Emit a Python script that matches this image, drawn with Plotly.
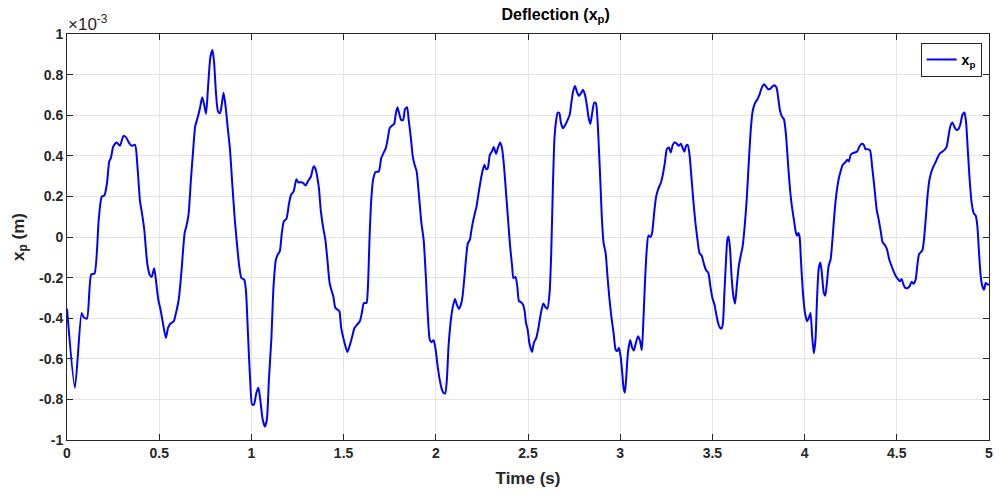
import plotly.graph_objects as go

# time (s)
t = [0.000, 0.043, 0.079, 0.090, 0.108, 0.131, 0.149, 0.172, 0.188, 0.203, 0.217, 0.229, 0.238, 0.251, 0.269,
     0.287, 0.306, 0.319, 0.341, 0.351, 0.369, 0.382, 0.396, 0.405, 0.419, 0.435, 0.448, 0.459, 0.473, 0.484,
     0.495, 0.507, 0.520, 0.536, 0.548, 0.561, 0.579, 0.591, 0.606, 0.620, 0.638, 0.647, 0.659, 0.672, 0.685,
     0.695, 0.710, 0.722, 0.733, 0.744, 0.754, 0.765, 0.778, 0.789, 0.798, 0.808, 0.819, 0.830, 0.839, 0.849,
     0.860, 0.871, 0.884, 0.896, 0.910, 0.923, 0.934, 0.946, 0.961, 0.970, 0.982, 0.993, 1.004, 1.014, 1.027,
     1.038, 1.048, 1.061, 1.073, 1.084, 1.095, 1.108, 1.120, 1.133, 1.143, 1.154, 1.165, 1.176, 1.190, 1.203,
     1.215, 1.229, 1.244, 1.254, 1.269, 1.281, 1.294, 1.308, 1.323, 1.337, 1.346,
     1.365, 1.376, 1.388, 1.401, 1.412, 1.424, 1.433, 1.444, 1.455, 1.466, 1.477, 1.487, 1.505, 1.520, 1.532,
     1.547, 1.559, 1.574, 1.588, 1.599, 1.610, 1.624, 1.632, 1.641, 1.650, 1.660, 1.673, 1.691, 1.704, 1.716,
     1.729, 1.740, 1.750, 1.761, 1.774, 1.783, 1.792, 1.801, 1.812, 1.823, 1.833, 1.844, 1.853, 1.864, 1.875,
     1.884, 1.896, 1.909, 1.922, 1.934, 1.945, 1.956, 1.967, 1.976, 1.988, 1.999, 2.010, 2.021, 2.032, 2.041,
     2.051, 2.060, 2.069, 2.080, 2.091, 2.104, 2.114, 2.125, 2.136, 2.145, 2.154, 2.165, 2.174, 2.185, 2.195,
     2.208, 2.221, 2.232, 2.244, 2.255, 2.264, 2.273, 2.282, 2.293, 2.304, 2.314, 2.327, 2.338, 2.349, 2.359,
     2.370, 2.381, 2.392, 2.403, 2.414, 2.421, 2.432, 2.442, 2.451, 2.462, 2.473, 2.482, 2.489, 2.498, 2.509,
     2.522, 2.532, 2.545, 2.558, 2.570, 2.583, 2.594, 2.605,
     2.617, 2.626, 2.635, 2.644, 2.653, 2.661, 2.670, 2.679, 2.690, 2.702, 2.715, 2.726, 2.735, 2.744, 2.755,
     2.765, 2.776, 2.787, 2.798, 2.809, 2.819, 2.829, 2.838, 2.848, 2.859, 2.868, 2.877, 2.884, 2.892, 2.901,
     2.910, 2.921, 2.931, 2.942, 2.953, 2.964, 2.975, 2.984, 2.993, 3.002, 3.011, 3.018, 3.025, 3.032, 3.042,
     3.054, 3.065, 3.074, 3.085, 3.097, 3.108, 3.117, 3.126, 3.135, 3.144, 3.153, 3.164, 3.173, 3.184, 3.195,
     3.208, 3.220, 3.231, 3.242, 3.253, 3.264, 3.274, 3.285, 3.296, 3.307, 3.318, 3.329, 3.339, 3.348, 3.357,
     3.366, 3.375, 3.386, 3.397, 3.408, 3.419, 3.430, 3.442, 3.455, 3.466, 3.478, 3.489, 3.500, 3.511, 3.523,
     3.536, 3.547, 3.556, 3.565, 3.574, 3.581, 3.588, 3.596, 3.605, 3.614, 3.623, 3.632, 3.643, 3.653, 3.664,
     3.675, 3.686, 3.697, 3.708, 3.718, 3.731, 3.744, 3.755, 3.767, 3.780, 3.791, 3.801, 3.812, 3.825, 3.836,
     3.847, 3.856, 3.866, 3.877, 3.888, 3.899, 3.910, 3.921, 3.931, 3.942, 3.953,
     3.959, 3.966, 3.973, 3.980, 3.991, 4.002, 4.013, 4.023, 4.032, 4.041, 4.050, 4.059, 4.068, 4.077, 4.086,
     4.095, 4.104, 4.112, 4.121, 4.130, 4.141, 4.151, 4.162, 4.173, 4.184, 4.195, 4.207, 4.220, 4.231, 4.240,
     4.250, 4.261, 4.274, 4.285, 4.297, 4.310, 4.321, 4.330, 4.342, 4.355, 4.366, 4.378, 4.391, 4.402, 4.413,
     4.423, 4.436, 4.447, 4.459, 4.472, 4.485, 4.495, 4.506, 4.517, 4.526, 4.535, 4.546, 4.559, 4.569, 4.580,
     4.591, 4.602, 4.611, 4.620, 4.631, 4.640, 4.649, 4.658, 4.668, 4.677, 4.688, 4.699, 4.712, 4.724, 4.735,
     4.748, 4.760, 4.771, 4.780, 4.791, 4.802, 4.813, 4.823, 4.834, 4.845, 4.856, 4.867, 4.876, 4.885, 4.895,
     4.906, 4.917, 4.928, 4.937, 4.946, 4.955, 4.964, 4.973, 4.982, 4.991, 5.000]

# deflection x_p, in units of 1e-3 m
xp = [-0.354, -0.743, -0.374, -0.395, -0.402, -0.185, -0.180, 0.085, 0.198, 0.205, 0.266, 0.372, 0.389, 0.446, 0.466,
      0.449, 0.498, 0.492, 0.457, 0.449, 0.454, 0.348, 0.175, 0.126, 0.036, -0.128, -0.185, -0.197, -0.154, -0.226,
      -0.308, -0.357, -0.423, -0.497, -0.448, -0.426, -0.415, -0.374, -0.308, -0.177, 0.020, 0.052, 0.110, 0.282, 0.438,
      0.544, 0.593, 0.639, 0.689, 0.651, 0.607, 0.741, 0.889, 0.921, 0.856, 0.708, 0.618, 0.610, 0.651, 0.711,
      0.643, 0.544, 0.430, 0.266, 0.085, -0.046, -0.144, -0.202, -0.210, -0.259, -0.489, -0.702, -0.825, -0.825, -0.767,
      -0.743, -0.800, -0.898, -0.934, -0.898, -0.702, -0.505, -0.243, -0.111, -0.087, -0.070, 0.020, 0.077, 0.090, 0.159,
      0.208, 0.225, 0.285, 0.269, 0.270, 0.266, 0.254, 0.277, 0.298, 0.348, 0.339,
      0.249, 0.134, 0.052, -0.013, -0.111, -0.226, -0.259, -0.292, -0.349, -0.357, -0.366, -0.448, -0.521, -0.566, -0.538,
      -0.489, -0.448, -0.431, -0.415, -0.374, -0.325, -0.325, -0.243, 0.003, 0.184, 0.282, 0.320, 0.323, 0.389, 0.413,
      0.438, 0.487, 0.536, 0.548, 0.557, 0.607, 0.639, 0.610, 0.577, 0.577, 0.630, 0.639, 0.577, 0.495, 0.397,
      0.359, 0.323, 0.200, 0.069, -0.013, -0.177, -0.374, -0.505, -0.518, -0.508, -0.554, -0.636, -0.702, -0.748, -0.767,
      -0.770, -0.702, -0.538, -0.423, -0.349, -0.305, -0.333, -0.354, -0.333, -0.292, -0.210, -0.095, -0.030, -0.013, 0.044,
      0.102, 0.151, 0.216, 0.282, 0.331, 0.356, 0.334, 0.339, 0.405, 0.421, 0.443, 0.410, 0.443, 0.466, 0.438,
      0.348, 0.216, 0.085, -0.046, -0.144, -0.202, -0.197, -0.243, -0.316, -0.321, -0.333, -0.366, -0.423, -0.456, -0.530,
      -0.566, -0.521, -0.497, -0.439, -0.374, -0.328, -0.344, -0.354,
      -0.275, -0.079, 0.249, 0.495, 0.577, 0.613, 0.610, 0.561, 0.536, 0.552, 0.577, 0.602, 0.659, 0.716, 0.744,
      0.716, 0.695, 0.708, 0.725, 0.700, 0.651, 0.585, 0.557, 0.610, 0.662, 0.659, 0.577, 0.446, 0.282, 0.085,
      -0.030, -0.079, -0.193, -0.308, -0.398, -0.472, -0.554, -0.562, -0.546, -0.587, -0.669, -0.743, -0.767, -0.702, -0.570,
      -0.508, -0.546, -0.559, -0.521, -0.489, -0.513, -0.557, -0.407, -0.210, -0.062, 0.007, 0.000, 0.020, 0.118, 0.200,
      0.241, 0.266, 0.307, 0.364, 0.433, 0.441, 0.416, 0.454, 0.467, 0.459, 0.449, 0.459, 0.438, 0.420, 0.449,
      0.454, 0.413, 0.298, 0.175, 0.069, -0.013, -0.079, -0.092, -0.136, -0.164, -0.177, -0.243, -0.300, -0.333, -0.390,
      -0.439, -0.452, -0.431, -0.275, -0.111, -0.013, 0.003, -0.062, -0.210, -0.292, -0.328, -0.243, -0.144, -0.095, -0.046,
      0.052, 0.184, 0.364, 0.528, 0.618, 0.659, 0.679, 0.700, 0.733, 0.752, 0.741, 0.729, 0.729, 0.741, 0.748,
      0.738, 0.692, 0.626, 0.593, 0.580, 0.503, 0.364, 0.233, 0.151, 0.085, 0.020,
      0.007, 0.020, 0.000, -0.111, -0.275, -0.374, -0.415, -0.398, -0.374, -0.489, -0.574, -0.505, -0.292, -0.152, -0.125,
      -0.193, -0.275, -0.289, -0.226, -0.144, -0.111, -0.013, 0.118, 0.216, 0.282, 0.323, 0.356, 0.367, 0.380, 0.372,
      0.405, 0.413, 0.416, 0.421, 0.446, 0.459, 0.454, 0.433, 0.433, 0.426, 0.348, 0.249, 0.134, 0.085, 0.028,
      -0.026, -0.041, -0.062, -0.111, -0.144, -0.174, -0.193, -0.207, -0.218, -0.207, -0.231, -0.251, -0.251, -0.243, -0.221,
      -0.230, -0.210, -0.144, -0.087, -0.074, -0.062, 0.003, 0.102, 0.216, 0.282, 0.323, 0.348, 0.372, 0.397, 0.413,
      0.421, 0.430, 0.446, 0.495, 0.548, 0.564, 0.541, 0.528, 0.531, 0.557, 0.602, 0.613, 0.561, 0.430, 0.282,
      0.167, 0.118, 0.105, 0.052, -0.079, -0.193, -0.243, -0.259, -0.226, -0.234, -0.234]

x_ticks = [0, 0.5, 1, 1.5, 2, 2.5, 3, 3.5, 4, 4.5, 5]
x_ticktext = ["0", "0.5", "1", "1.5", "2", "2.5", "3", "3.5", "4", "4.5", "5"]
y_ticks = [-1, -0.8, -0.6, -0.4, -0.2, 0, 0.2, 0.4, 0.6, 0.8, 1]
y_ticktext = ["-1", "-0.8", "-0.6", "-0.4", "-0.2", "0", "0.2", "0.4", "0.6", "0.8", "1"]

FONT = "Liberation Sans, Arial, Helvetica, sans-serif"

fig = go.Figure()
fig.add_trace(go.Scatter(
    x=t, y=xp, mode="lines", name="x<sub>p</sub>",
    line=dict(color="#0000FF", width=2, shape="spline", smoothing=0.6),
))

axis_common = dict(
    showgrid=True, gridcolor="#e3e3e3", gridwidth=1,
    showline=True, linecolor="#262626", linewidth=1, mirror="ticks",
    ticks="inside", ticklen=6, tickcolor="#262626",
    zeroline=False,
    tickfont=dict(family=FONT, size=14, color="#262626", weight="bold"),
)

fig.update_layout(
    width=1001, height=495,
    margin=dict(l=67, r=8, t=34, b=55),
    paper_bgcolor="white", plot_bgcolor="white",
    font=dict(family=FONT, color="#262626"),
    title=dict(text="Deflection (x<sub>p</sub>)", x=0.53, xref="paper", xanchor="center",
               y=0.982, yref="container", yanchor="top",
               font=dict(family=FONT, size=16, color="black", weight="bold")),
    xaxis=dict(range=[0, 5], tickvals=x_ticks, ticktext=x_ticktext,
               title=dict(text="Time (s)", standoff=12,
                          font=dict(family=FONT, size=17, color="#262626", weight="bold")),
               **axis_common),
    yaxis=dict(range=[-1, 1], tickvals=y_ticks, ticktext=y_ticktext,
               title=dict(text="x<sub>p</sub> (m)", standoff=10,
                          font=dict(family=FONT, size=17, color="#262626", weight="bold")),
               **axis_common),
    showlegend=True,
    legend=dict(x=0.992, y=0.978, xanchor="right", yanchor="top",
                bgcolor="white", bordercolor="#262626", borderwidth=1,
                font=dict(family=FONT, size=14, color="black", weight="bold"),
                itemwidth=30),
    annotations=[dict(text="×10<sup>-3</sup>", x=0, y=1, xref="paper", yref="paper",
                      xanchor="left", yanchor="bottom", showarrow=False, xshift=-1, yshift=-2,
                      font=dict(family=FONT, size=17, color="#262626"))],
)

fig.write_html("out.html")
